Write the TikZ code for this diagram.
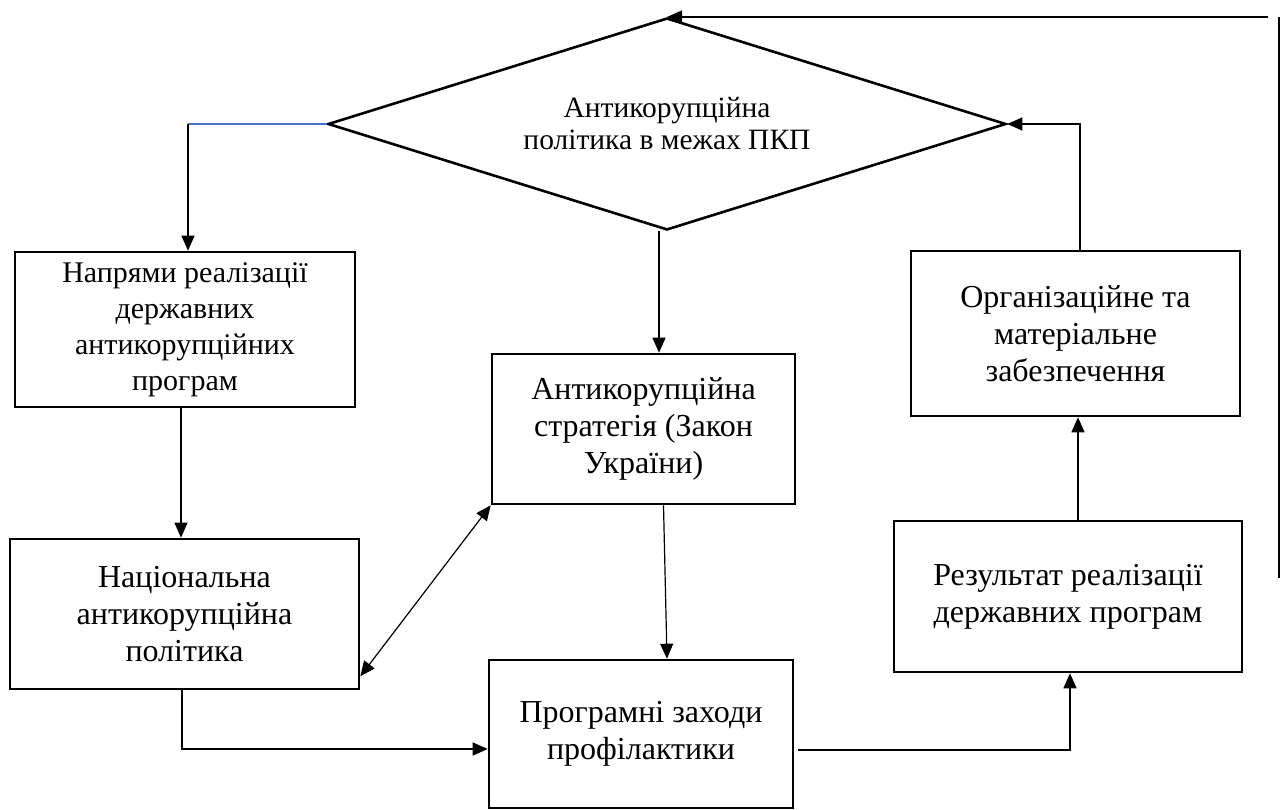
\documentclass[tikz,border=0pt]{standalone}
\usepackage{fontspec}
\setmainfont{Liberation Serif}
\usetikzlibrary{shapes.geometric,arrows.meta}
\definecolor{lineblue}{RGB}{68,114,196}
\tikzset{
  box/.style={draw, line width=2.6pt, rectangle, inner sep=0pt, align=center, font=\fontsize{32}{37}\selectfont},
  conn/.style={line width=1.2pt},
  tip/.tip={Triangle[length=15pt,width=13pt]},
  arr/.style={conn, -tip},
  darr/.style={conn, tip-tip},
  blueline/.style={line width=1.2pt, draw=lineblue},
}
\begin{document}
\begin{tikzpicture}[x=1pt,y=-1pt]
\useasboundingbox (0,0) rectangle (1286,810);
\fill[white] (0,0) rectangle (1286,810);
% decision
\node[diamond, draw, line width=2.6pt, shape aspect=3.2, minimum width=678pt, minimum height=212pt, inner sep=0pt,
      align=center, font=\fontsize{29.5}{32}\selectfont] (dia) at (667,124)
      {Антикорупційна\\політика в межах ПКП};
% boxes
\node[box, font=\fontsize{30}{36}\selectfont, minimum width=340pt, minimum height=155pt] (A) at (185,329.5)
      {Напрями реалізації\\державних\\антикорупційних\\програм};
\node[box, minimum width=349pt, minimum height=150pt] (B) at (184.5,614)
      {Національна\\антикорупційна\\політика};
\node[box, minimum width=303pt, minimum height=150pt] (C) at (643.5,429)
      {Антикорупційна\\стратегія (Закон\\України)};
\node[box, minimum width=304pt, minimum height=148pt] (D) at (641,734)
      {Програмні заходи\\профілактики};
\node[box, minimum width=329pt, minimum height=165pt] (E) at (1075.5,333.5)
      {Організаційне та\\матеріальне\\забезпечення};
\node[box, minimum width=348pt, minimum height=151pt] (F) at (1068,596.5)
      {Результат реалізації\\державних програм};
% helper coordinates
\coordinate (a1) at (188,126);
\coordinate (xab) at (181,0);
\coordinate (b2) at (182,749);
\coordinate (f2) at (1070,750);
\coordinate (fe) at (1078,0);
\coordinate (e2) at (1080,123);
\coordinate (r1) at (1279,578);
\coordinate (r2) at (1279,17);
\coordinate (r3) at (1268,17);
% connectors
\draw[blueline] (dia.west) -- (a1 |- dia.west);
\draw[arr] (a1 |- dia.west) -- (a1 |- A.north);
\draw[arr] ([xshift=-8pt]dia.south) -- ([xshift=-8pt]dia.south |- C.north);
\draw[arr] (xab |- A.south) -- (xab |- B.north);
\draw[darr] ([yshift=14pt]B.south east) -- (C.south west);
\draw[arr] ([xshift=20pt]C.south) -- ([xshift=26pt]D.north);
\draw[arr] (b2 |- B.south) -- (b2) -- (b2 -| D.west);
\draw[arr] ([xshift=4pt]D.east |- f2) -- (f2) -- (f2 |- F.south);
\draw[arr] (fe |- F.north) -- (fe |- E.south);
\draw[arr] (e2 |- E.north) -- (e2 |- dia.east) -- (dia.east);
\draw[conn] (r1) -- (r2);
\draw[arr] (r3) -- (r3 -| dia.north);
\end{tikzpicture}
\end{document}
